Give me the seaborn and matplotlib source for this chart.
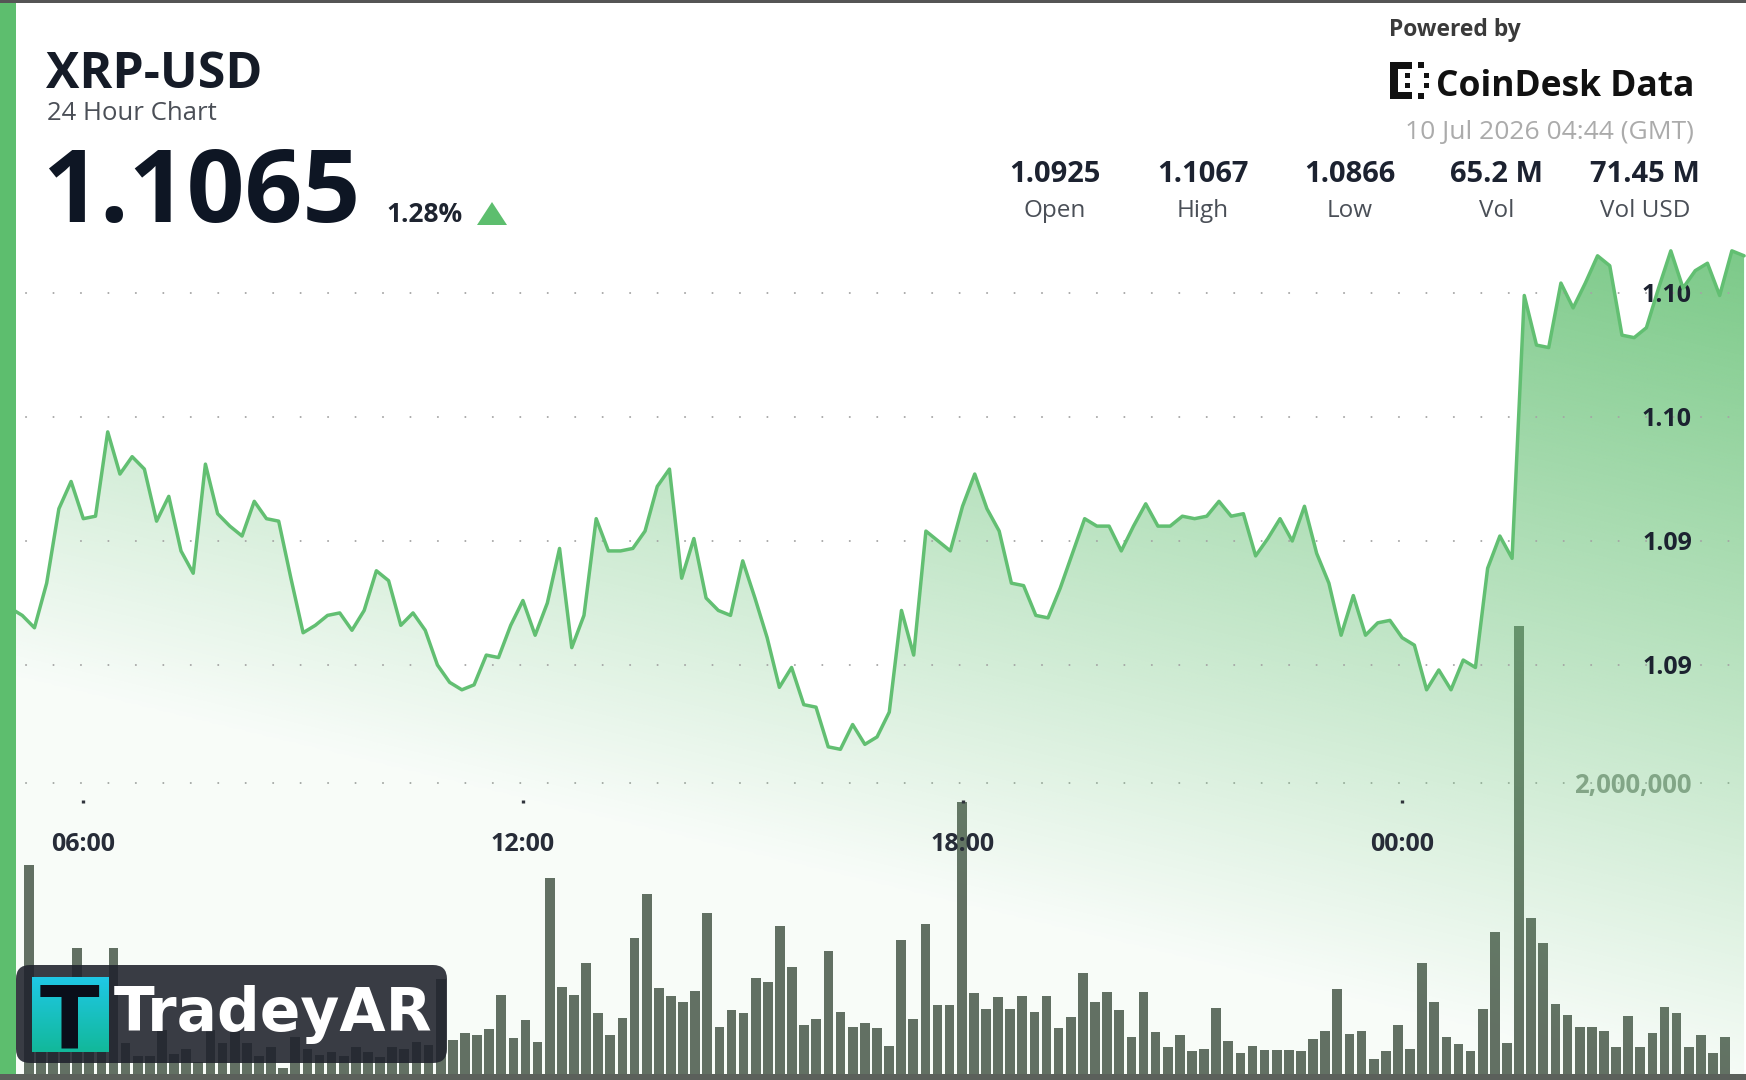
import numpy as np
import matplotlib
matplotlib.use("Agg")
import matplotlib.pyplot as plt
import seaborn as sns
from matplotlib.patches import FancyBboxPatch, Rectangle, Polygon
from matplotlib.transforms import IdentityTransform

# ------------------------------------------------------------------ data
symbol = "XRP-USD"
subtitle = "24 Hour Chart"
last_price = "1.1065"
change_pct = "1.28%"
powered_by = "Powered by"
brand = "CoinDesk Data"
timestamp = "10 Jul 2026 04:44 (GMT)"
stat_values = ["1.0925", "1.1067", "1.0866", "65.2 M", "71.45 M"]
stat_labels = ["Open", "High", "Low", "Vol", "Vol USD"]
watermark = "TradeyAR"

# 10-minute closes, first one at 05:00 (hours after midnight of day 1)
price_start_hour = 5.0
price_step_hours = 1 / 6
prices = [
    1.0923, 1.0920, 1.0915, 1.0933, 1.0963, 1.0974, 1.0959, 1.0960, 1.0994, 1.0977,
    1.0984, 1.0979, 1.0958, 1.0968, 1.0946, 1.0937, 1.0981, 1.0961, 1.0956, 1.0952,
    1.0966, 1.0959, 1.0958, 1.0935, 1.0913, 1.0916, 1.0920, 1.0921, 1.0914, 1.0922,
    1.0938, 1.0934, 1.0916, 1.0921, 1.0914, 1.0900, 1.0893, 1.0890, 1.0892, 1.0904,
    1.0903, 1.0916, 1.0926, 1.0912, 1.0925, 1.0947, 1.0907, 1.0920, 1.0959, 1.0946,
    1.0946, 1.0947, 1.0954, 1.0972, 1.0979, 1.0935, 1.0951, 1.0927, 1.0922, 1.0920,
    1.0942, 1.0927, 1.0911, 1.0891, 1.0899, 1.0884, 1.0883, 1.0867, 1.0866, 1.0876,
    1.0868, 1.0871, 1.0881, 1.0922, 1.0904, 1.0954, 1.0950, 1.0946, 1.0964, 1.0977,
    1.0963, 1.0954, 1.0933, 1.0932, 1.0920, 1.0919, 1.0931, 1.0945, 1.0959, 1.0956,
    1.0956, 1.0946, 1.0956, 1.0965, 1.0956, 1.0956, 1.0960, 1.0959, 1.0960, 1.0966,
    1.0960, 1.0961, 1.0944, 1.0951, 1.0959, 1.0950, 1.0964, 1.0945, 1.0933, 1.0912,
    1.0928, 1.0912, 1.0917, 1.0918, 1.0911, 1.0908, 1.0890, 1.0898, 1.0890, 1.0902,
    1.0899, 1.0939, 1.0952, 1.0943, 1.1049, 1.1029, 1.1028, 1.1054, 1.1044, 1.1054,
    1.1065, 1.1061, 1.1033, 1.1032, 1.1036, 1.1052, 1.1067, 1.1052, 1.1059, 1.1062,
    1.1049, 1.1067, 1.1065,
]

# volume per bar, millions
volumes_m = [
    1.436, 0.300, 0.350, 0.280, 0.868, 0.300, 0.250, 0.868, 0.215, 0.124,
    0.124, 0.302, 0.137, 0.170, 0.080, 0.302, 0.211, 0.302, 0.215, 0.124,
    0.188, 0.040, 0.252, 0.170, 0.130, 0.150, 0.124, 0.183, 0.150, 0.120,
    0.188, 0.175, 0.220, 0.200, 0.654, 0.234, 0.279, 0.268, 0.307, 0.543,
    0.245, 0.371, 0.218, 1.349, 0.596, 0.543, 0.765, 0.422, 0.268, 0.383,
    0.937, 1.237, 0.589, 0.536, 0.493, 0.573, 1.109, 0.325, 0.440, 0.417,
    0.662, 0.630, 1.017, 0.733, 0.337, 0.376, 0.845, 0.424, 0.321, 0.353,
    0.314, 0.195, 0.921, 0.376, 1.031, 0.474, 0.474, 1.868, 0.559, 0.444,
    0.527, 0.444, 0.538, 0.424, 0.538, 0.314, 0.389, 0.696, 0.497, 0.561,
    0.440, 0.252, 0.561, 0.290, 0.188, 0.268, 0.160, 0.170, 0.451, 0.229,
    0.147, 0.195, 0.165, 0.165, 0.165, 0.158, 0.238, 0.298, 0.582, 0.275,
    0.298, 0.101, 0.160, 0.337, 0.170, 0.765, 0.497, 0.257, 0.206, 0.160,
    0.444, 0.978, 0.215, 3.079, 1.074, 0.903, 0.481, 0.405, 0.321, 0.321,
    0.298, 0.188, 0.399, 0.188, 0.284, 0.458, 0.417, 0.188, 0.268, 0.147,
    0.257,
]

price_ticks = [1.090, 1.095, 1.100, 1.105]
price_tick_labels = ["1.09", "1.09", "1.10", "1.10"]
time_ticks = [6, 12, 18, 24]
time_tick_labels = ["06:00", "12:00", "18:00", "00:00"]
vol_ticks = [2_000_000]
vol_tick_labels = ["2,000,000"]

# ------------------------------------------------------------------ style
W, H = 1746, 1080
sns.set_theme(style="white")
plt.rcParams["font.family"] = ["Open Sans", "DejaVu Sans"]
plt.rcParams["lines.scale_dashes"] = False

GREEN = "#5dbe6e"
LINE = "#62bf72"
BAR = "#626c62"
DARK = "#151b27"
GRID = dict(color="#a4a4a4", linewidth=1.4,
            linestyle=(1.07, (0.1, 19.67)), dash_capstyle="round")

fig = plt.figure(figsize=(W / 100, H / 100), dpi=100, facecolor="white")


def fx(x):
    return x / W


def fy(y):
    return 1 - y / H


PLOT_TOP, PLOT_BOT = 230, 1074
rect = [0, fy(PLOT_BOT), 1, (PLOT_BOT - PLOT_TOP) / H]
ax_vol = fig.add_axes(rect, zorder=1)
ax = fig.add_axes(rect, zorder=2)
for a in (ax, ax_vol):
    a.patch.set_alpha(0)
    for s in a.spines.values():
        s.set_visible(False)
    a.grid(False)


def price_at(y):
    return 1.105 - (y - 293) / 24800


def hour_at(x):
    return 6 + (x - 83.3) / 73.27


p_lo, p_hi = price_at(PLOT_BOT), price_at(PLOT_TOP)
t_lo, t_hi = hour_at(0), hour_at(W)

# ------------------------------------------------------------------ volume bars
vol_idx = np.arange(len(volumes_m))
vol_vals = np.array(volumes_m) * 1e6
sns.barplot(x=vol_idx, y=vol_vals, ax=ax_vol, color=BAR, saturation=1,
            width=0.8, errorbar=None, linewidth=0)
bar_pitch, first_bar_x = 12.117, 28.7
ax_vol.set_xlim(-first_bar_x / bar_pitch, (W - first_bar_x) / bar_pitch)
ax_vol.set_ylim(0, (PLOT_BOT - PLOT_TOP) / 145.5 * 1e6)
ax_vol.set_xticks([])
ax_vol.set_xlabel("")
ax_vol.set_ylabel("")
ax_vol.yaxis.tick_right()
ax_vol.set_yticks(vol_ticks, vol_tick_labels)
ax_vol.tick_params(axis="y", length=0, pad=-38.9, labelsize=18.5,
                   labelcolor="#8e988e", labelright=True, labelleft=False)
ax_vol.set_axisbelow(True)
ax_vol.yaxis.grid(True, **GRID)

# ------------------------------------------------------------------ price line + gradient fill
times = price_start_hour + price_step_hours * np.arange(len(prices))
sns.lineplot(x=times, y=prices, ax=ax, color=LINE, linewidth=2.5, zorder=5,
             solid_joinstyle="round")
poly = ax.fill_between(times, prices, p_lo, facecolor="none", edgecolor="none",
                       linewidth=0)
nx, ny = 300, 200
u = np.linspace(0, 1, nx)
v = np.linspace(0, 1, ny) * (PLOT_BOT - PLOT_TOP) / 852
m = np.clip(-0.35 + 0.42 * u[None, :] + 0.85 * v[:, None], 0.05, 0.92)
rgba = np.zeros((ny, nx, 4))
rgba[..., 0] = 108 / 255
rgba[..., 1] = 195 / 255
rgba[..., 2] = 122 / 255
rgba[..., 3] = m
im = ax.imshow(rgba, extent=[t_lo, t_hi, p_lo, p_hi], origin="lower",
               aspect="auto", interpolation="bilinear", zorder=1)
im.set_clip_path(poly.get_paths()[0], transform=ax.transData)

ax.set_xlim(t_lo, t_hi)
ax.set_ylim(p_lo, p_hi)
ax.set_xlabel("")
ax.set_ylabel("")
ax.set_axisbelow("line")
ax.yaxis.grid(True, **GRID)

ax.yaxis.tick_right()
ax.set_yticks(price_ticks, price_tick_labels)
ax.tick_params(axis="y", length=0, pad=-38.9, labelsize=18,
               labelcolor="#1c2230", labelright=True, labelleft=False)

ax.spines["bottom"].set_position(("data", price_at(800)))
ax.set_xticks(time_ticks, time_tick_labels)
ax.tick_params(axis="x", direction="out", length=2.2, width=2.4,
               color="#30343c", pad=20.5, labelsize=18, labelcolor="#272c38",
               bottom=True, labelbottom=True, top=False, labeltop=False)

for lbl in ax.get_xticklabels() + ax.get_yticklabels() + ax_vol.get_yticklabels():
    lbl.set_fontweight("bold")
for lbl in ax.get_yticklabels() + ax_vol.get_yticklabels():
    lbl.set_horizontalalignment("right")

# ------------------------------------------------------------------ frame decorations
pix = IdentityTransform()


def prect(x0, y0, x1, y1, color, z=9, **kw):
    r = Rectangle((x0, H - y1), x1 - x0, y1 - y0, transform=pix,
                  facecolor=color, edgecolor="none", zorder=z, **kw)
    fig.add_artist(r)
    return r


prect(0, 0, 16, H, GREEN, z=9)
prect(0, 0, W, 2.5, "#555555", z=9.5)
prect(0, 1074, W, H, "#5b605b", z=9.5)

# ------------------------------------------------------------------ header (left)
fig.text(fx(46), fy(88), symbol, fontsize=36, fontweight="bold", color=DARK,
         va="baseline", ha="left", zorder=10)
fig.text(fx(47), fy(120), subtitle, fontsize=18.5, color="#4b4f57",
         va="baseline", ha="left", zorder=10)
fig.text(fx(42), fy(222), last_price, fontsize=73, fontweight="bold",
         color="#0e1624", va="baseline", ha="left", zorder=10)
fig.text(fx(386), fy(222), change_pct, fontsize=19, fontweight="bold",
         color="#1e2430", va="baseline", ha="left", zorder=10)
fig.add_artist(Polygon([(477, H - 225), (507, H - 225), (492, H - 202)],
                       closed=True, transform=pix, facecolor=GREEN,
                       edgecolor="none", zorder=10))

# ------------------------------------------------------------------ header (right)
fig.text(fx(1389), fy(36), powered_by, fontsize=16.5, fontweight="bold",
         color="#3a3a3a", va="baseline", ha="left", zorder=10)
# CoinDesk bracket mark
INK = "#111111"
prect(1390, 62, 1398, 99, INK, z=10)
prect(1390, 62, 1412, 69, INK, z=10)
prect(1390, 92, 1412, 99, INK, z=10)
prect(1405, 73, 1410, 78, INK, z=10)
prect(1405, 83, 1410, 88, INK, z=10)
prect(1418, 62, 1424, 68, INK, z=10)
prect(1418, 93, 1424, 99, INK, z=10)
prect(1424, 73, 1429, 78, INK, z=10)
prect(1424, 83, 1429, 88, INK, z=10)
fig.text(fx(1694), fy(96), brand, fontsize=25.5, fontweight="bold",
         color=INK, va="baseline", ha="right", zorder=10)
fig.text(fx(1694), fy(139), timestamp, fontsize=19, color="#ababab",
         va="baseline", ha="right", zorder=10)

stat_centers = [1055, 1203, 1350, 1497, 1645]
for cx, val, lab in zip(stat_centers, stat_values, stat_labels):
    fig.text(fx(cx), fy(182), val, fontsize=21, fontweight="bold",
             color="#1c2230", va="baseline", ha="center", zorder=10)
    fig.text(fx(cx), fy(217), lab, fontsize=17.5, color="#4a4f57",
             va="baseline", ha="center", zorder=10)

# ------------------------------------------------------------------ watermark
box = FancyBboxPatch((16, H - 1063), 431, 98,
                     boxstyle="round,pad=0,rounding_size=14", transform=pix,
                     facecolor="#20232d", edgecolor="none", alpha=0.885,
                     zorder=10)
fig.add_artist(box)
ax_icon = fig.add_axes([fx(31.7), fy(1051.7), fx(108.3) - fx(31.7),
                        (1051.7 - 976.7) / H], zorder=11)
icon_grad = np.linspace(0, 1, 64)[:, None, None]
top_c = np.array([31, 200, 230]) / 255
bot_c = np.array([18, 184, 154]) / 255
ax_icon.imshow(top_c + (bot_c - top_c) * icon_grad, aspect="auto",
               extent=[0, 1, 0, 1])
ax_icon.axis("off")
fig.text(fx(69.5), fy(1047), "T", fontsize=63, fontweight="bold",
         family=["DejaVu Sans"], color="#0a0e1a", va="baseline", ha="center",
         zorder=12)
fig.text(fx(114), fy(1031), watermark, fontsize=43, fontweight="bold",
         family=["DejaVu Sans"], color="white", va="baseline", ha="left",
         zorder=12)

fig.savefig("out.png", dpi=100, facecolor="white")
